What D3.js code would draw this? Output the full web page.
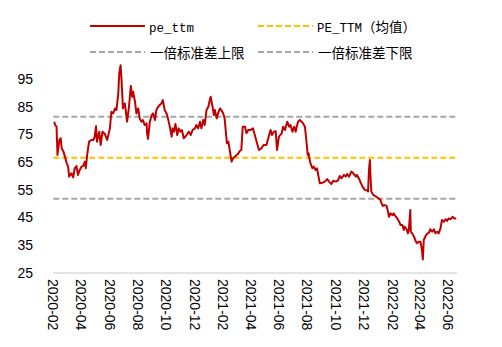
<!DOCTYPE html>
<html><head><meta charset="utf-8">
<script src="https://cdn.jsdelivr.net/npm/d3@7"></script>
<style>body{margin:0;background:#fff}</style>
</head><body><svg id="c" width="502" height="347"></svg>
<script>
const dates = ["2020-02-03","2020-02-05","2020-02-08","2020-02-10","2020-02-14","2020-02-17","2020-02-19","2020-02-23","2020-02-26","2020-03-01",
"2020-03-04","2020-03-06","2020-03-11","2020-03-15","2020-03-18","2020-03-22","2020-03-25","2020-03-29","2020-04-02","2020-04-05",
"2020-04-09","2020-04-11","2020-04-14","2020-04-18","2020-04-23","2020-04-27","2020-04-30","2020-05-03","2020-05-05","2020-05-10",
"2020-05-13","2020-05-17","2020-05-22","2020-05-27","2020-06-02","2020-06-05","2020-06-09","2020-06-13","2020-06-16","2020-06-20",
"2020-06-22","2020-06-25","2020-06-27","2020-06-30","2020-07-04","2020-07-06","2020-07-09","2020-07-13","2020-07-17","2020-07-20",
"2020-07-22","2020-07-26","2020-07-29","2020-08-02","2020-08-05","2020-08-09","2020-08-12","2020-08-16","2020-08-20","2020-08-21",
"2020-08-23","2020-08-27","2020-08-31","2020-09-03","2020-09-07","2020-09-10","2020-09-14","2020-09-17","2020-09-21","2020-09-24",
"2020-09-28","2020-10-02","2020-10-05","2020-10-09","2020-10-13","2020-10-15","2020-10-18","2020-10-21","2020-10-25","2020-10-28",
"2020-11-01","2020-11-04","2020-11-08","2020-11-14","2020-11-19","2020-11-23","2020-11-27","2020-12-02","2020-12-05","2020-12-09",
"2020-12-13","2020-12-16","2020-12-20","2020-12-23","2020-12-27","2020-12-31","2021-01-03","2021-01-05","2021-01-09","2021-01-12",
"2021-01-14","2021-01-18","2021-01-21","2021-01-25","2021-01-28","2021-02-01","2021-02-04","2021-02-07","2021-02-09","2021-02-12",
"2021-02-15","2021-02-19","2021-02-22","2021-02-26","2021-03-02","2021-03-05","2021-03-09","2021-03-12","2021-03-15","2021-03-20",
"2021-03-23","2021-03-27","2021-03-31","2021-04-06","2021-04-10","2021-04-14","2021-04-19","2021-04-24","2021-04-29","2021-05-05",
"2021-05-09","2021-05-14","2021-05-17","2021-05-21","2021-05-25","2021-05-28","2021-06-01","2021-06-07","2021-06-10","2021-06-14",
"2021-06-19","2021-06-23","2021-06-26","2021-06-30","2021-07-04","2021-07-07","2021-07-12","2021-07-16","2021-07-20","2021-07-23",
"2021-07-27","2021-07-30","2021-08-02","2021-08-04","2021-08-05","2021-08-08","2021-08-12","2021-08-15","2021-08-19","2021-08-22",
"2021-08-24","2021-08-28","2021-09-03","2021-09-08","2021-09-13","2021-09-17","2021-09-22","2021-09-26","2021-10-01","2021-10-06",
"2021-10-10","2021-10-14","2021-10-19","2021-10-23","2021-10-26","2021-10-30","2021-11-04","2021-11-08","2021-11-14","2021-11-16",
"2021-11-21","2021-11-24","2021-11-28","2021-12-03","2021-12-08","2021-12-10","2021-12-12","2021-12-14","2021-12-15","2021-12-17",
"2021-12-21","2021-12-28","2022-01-01","2022-01-05","2022-01-08","2022-01-11","2022-01-15","2022-01-19","2022-01-22","2022-01-24",
"2022-01-27","2022-02-01","2022-02-03","2022-02-08","2022-02-11","2022-02-15","2022-02-18","2022-02-22","2022-02-25","2022-02-27",
"2022-03-03","2022-03-06","2022-03-08","2022-03-11","2022-03-12","2022-03-15","2022-03-19","2022-03-23","2022-03-26","2022-03-29",
"2022-04-02","2022-04-05","2022-04-07","2022-04-09","2022-04-13","2022-04-17","2022-04-20","2022-04-23","2022-04-27","2022-05-01",
"2022-05-04","2022-05-08","2022-05-11","2022-05-15","2022-05-18","2022-05-22","2022-05-26","2022-05-29","2022-06-02","2022-06-06",
"2022-06-10","2022-06-14","2022-06-18"];
const peTtm = [79.6,78.4,77.8,67.6,73,73.6,70,68.8,67,64.6,
63.4,59.8,61,59.5,62.8,63.6,60.4,62.2,63.4,63.6,
65.2,62.8,67.6,72.4,73,73,74,78,72.4,76,
71.2,76,75.2,73,77.2,83.2,82.6,84.4,83.8,89.8,
97,100,94.6,84.4,86.2,83.8,79.6,85,92.5,88.6,
90.4,86.8,82.6,84.4,80.8,79.6,80.2,78.4,79,75.4,
73.4,79.6,82,82.6,80.2,83.8,85,85.6,86.2,87.4,
83.8,82.6,80.8,77.8,74.2,77.2,76,78.8,74.8,77.2,
76,76.6,73.6,74.8,76,74.8,76.6,77.2,78.4,77.2,
79.6,77.2,80.2,78.4,83.8,85,87.4,88.6,85,82,
83.8,80.8,82.6,84.4,83.8,82.6,80.8,75.4,71.8,72.4,
69.4,65.2,66.4,67,67.6,68,69.1,69.4,77.8,77.8,
75.4,76.6,76.6,77.2,74.8,72.4,69.4,70,71.2,71.2,
73.6,76.6,74.8,76,76.2,69.4,74.2,75.4,77.8,76.6,
79.6,77.8,78.4,76,77.8,76,79.6,80.2,79.6,79,
77.8,73,67.6,68.2,66.8,64.6,62.8,63.4,62.2,62.8,
61,57.4,57.6,58,58.9,58,57.1,58.3,58,58.3,
60,59.2,60.4,59.8,60.7,59.8,61.6,61,59.8,60.4,
58.9,57.6,56.2,55,54.8,54.4,62.2,65.8,61,54.4,
53.2,52.5,52,51.6,50.2,49.2,49.5,49.2,47.1,45.3,
46.5,45.9,46.5,45.3,44.7,43.5,42.3,42.3,40.5,41.7,
40.8,39.3,41.1,47.7,39.9,39.3,38.1,36.3,35.7,36.3,
36.3,33.3,29.9,36.9,38.4,39.3,39.5,40.8,39.9,40.8,
39.3,39.9,39.3,41.1,44.1,43.5,44.4,43.8,44.7,44.4,
45.3,44.7,44.7];
const meanVal = 66.6;
const upperVal = 81.4;
const lowerVal = 51.8;
const yTicks = [25,35,45,55,65,75,85,95];
const xTickLabels = ["2020-02","2020-04","2020-06","2020-08","2020-10","2020-12","2021-02","2021-04","2021-06","2021-08","2021-10","2021-12","2022-02","2022-04","2022-06"];
const legendNames = ["pe_ttm","PE_TTM（均值）","一倍标准差上限","一倍标准差下限"];

const parse = d3.timeParse("%Y-%m-%d");
const data = dates.map((d,i)=>({date:parse(d), v:peTtm[i]}));
const svg = d3.select("#c");
const x = d3.scaleTime().domain([parse("2020-02-01"), parse("2022-06-20")]).range([53.3, 457.2]);
const y = d3.scaleLinear().domain([25,100]).range([273, 65.2]);
const x0 = x.range()[0], x1 = x.range()[1];

// bottom axis line
svg.append("line").attr("x1",x0).attr("x2",x1).attr("y1",y(25)).attr("y2",y(25))
  .attr("stroke","#c8c8c8").attr("stroke-width",1.2);

// y labels
svg.append("g").selectAll("text").data(yTicks).join("text")
  .attr("x",33).attr("y",d=>y(d)).attr("dy","0.35em").attr("text-anchor","end")
  .attr("font-family","Liberation Sans, Arial, sans-serif").attr("font-size",14).attr("fill","#000")
  .text(d=>d);

// x labels rotated
svg.append("g").selectAll("text").data(xTickLabels).join("text")
  .attr("transform",d=>`translate(${x(parse(d+"-01"))},279) rotate(90)`)
  .attr("dy","0.35em").attr("text-anchor","start")
  .attr("font-family","Liberation Sans, Arial, sans-serif").attr("font-size",14).attr("fill","#000")
  .text(d=>d);

// reference lines
const refs = [[upperVal,"#a6a6a6"],[meanVal,"#ffc000"],[lowerVal,"#a6a6a6"]];
svg.append("g").selectAll("line").data(refs).join("line")
  .attr("x1",x0).attr("x2",x1).attr("y1",d=>y(d[0])).attr("y2",d=>y(d[0]))
  .attr("stroke",d=>d[1]).attr("stroke-width",2).attr("stroke-dasharray","6,3");

// main line
svg.append("path").datum(data)
  .attr("d", d3.line().x(d=>x(d.date)).y(d=>y(d.v)))
  .attr("fill","none").attr("stroke","#c00000").attr("stroke-width",2).attr("stroke-linejoin","round");

// legend
const leg = [
  {lx:90, ly:26, color:"#c00000", dash:null, tx:149},
  {lx:258, ly:26, color:"#ffc000", dash:"6,3", tx:317},
  {lx:90, ly:52, color:"#a6a6a6", dash:"6,3", tx:150},
  {lx:258, ly:52, color:"#a6a6a6", dash:"6,3", tx:318}
];
leg.forEach((l,i)=>{
  svg.append("line").attr("x1",l.lx).attr("x2",l.lx+55).attr("y1",l.ly).attr("y2",l.ly)
    .attr("stroke",l.color).attr("stroke-width",2).attr("stroke-dasharray",l.dash);
  const t = svg.append("text").attr("x",l.tx).attr("y",l.ly).attr("dy","0.35em").attr("fill","#000");
  const name = legendNames[i];
  const parts = name.match(/[\x00-\x7f]+|[^\x00-\x7f]+/g);
  parts.forEach(p=>{
    const ascii = /^[\x00-\x7f]+$/.test(p);
    t.append("tspan").text(p)
      .attr("font-family", ascii ? "Liberation Mono, DejaVu Sans Mono, monospace" : "Noto Sans CJK SC, sans-serif")
      .attr("font-size", ascii ? 12.5 : 13.5);
  });
});
</script></body></html>
